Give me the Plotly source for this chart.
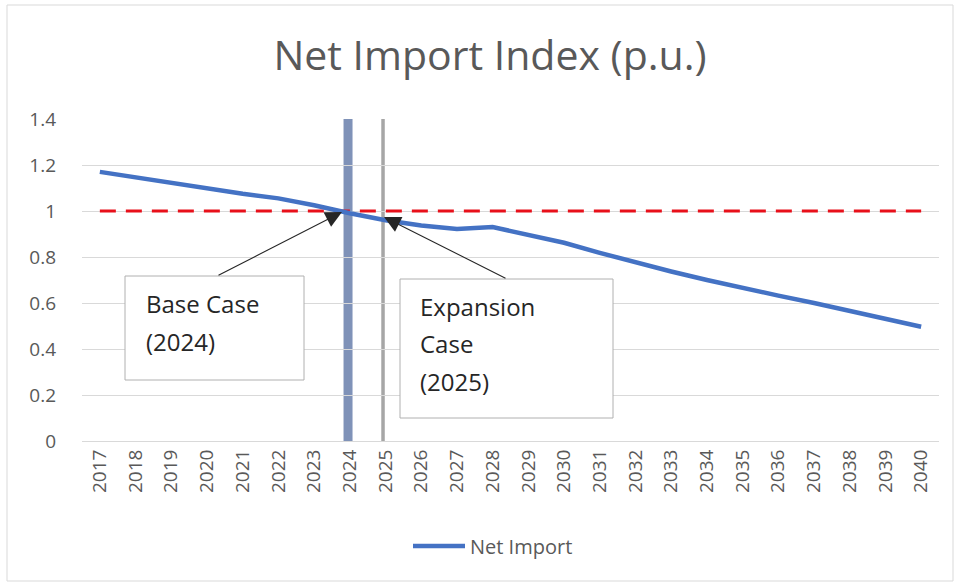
import plotly.graph_objects as go

# ---- data ----
years = [str(y) for y in range(2017, 2041)]
net_import = [1.17, 1.146, 1.122, 1.098, 1.075, 1.055, 1.025, 0.99, 0.96, 0.937, 0.922, 0.93,
              0.895, 0.862, 0.818, 0.776, 0.737, 0.70, 0.665, 0.632, 0.60, 0.567, 0.532, 0.497]
reference_level = 1.0
base_year = "2024"
expansion_year = "2025"
y_ticks = [0, 0.2, 0.4, 0.6, 0.8, 1, 1.2, 1.4]
y_tick_text = ["0", "0.2", "0.4", "0.6", "0.8", "1", "1.2", "1.4"]

# ---- layout geometry (pixels) ----
W, H = 960, 583
L, R, T, B = 82, 939, 119, 441
PW, PH = R - L, B - T


def px(x):
    return (x - L) / PW


def py(y):
    return (B - y) / PH


fig = go.Figure()
fig.add_trace(go.Scatter(x=years, y=[reference_level] * len(years), mode="lines",
                         line=dict(color="#e8101a", width=3, dash="16px,10px"),
                         showlegend=False, hoverinfo="skip"))
fig.add_trace(go.Scatter(x=years, y=net_import, mode="lines", name="Net Import",
                         line=dict(color="#4472c4", width=4.5)))

shapes = []
bi = years.index(base_year)
ei = years.index(expansion_year)
shapes.append(dict(type="line", xref="x", yref="paper", x0=bi - 0.05, x1=bi - 0.05, y0=0, y1=1,
                   line=dict(color="#7f92b8", width=9), layer="between"))
shapes.append(dict(type="line", xref="x", yref="paper", x0=ei - 0.07, x1=ei - 0.07, y0=0, y1=1,
                   line=dict(color="#a6a6a6", width=3.5), layer="between"))
# annotation boxes
shapes.append(dict(type="rect", xref="paper", yref="paper", x0=px(125), x1=px(304), y0=py(380), y1=py(276),
                   line=dict(color="#b0b0b0", width=1), fillcolor="white", layer="above"))
shapes.append(dict(type="rect", xref="paper", yref="paper", x0=px(400), x1=px(613), y0=py(418), y1=py(279),
                   line=dict(color="#b0b0b0", width=1), fillcolor="white", layer="above"))
# outer chart border
shapes.append(dict(type="rect", xref="paper", yref="paper", x0=px(7), x1=px(953), y0=py(581), y1=py(5),
                   line=dict(color="#d9d9d9", width=1), fillcolor="rgba(0,0,0,0)", layer="below"))

ann_font = dict(family="Open Sans", size=24, color="#262626")
annotations = []
for txt, x, y in [("Base Case", 144, 303), ("(2024)", 144, 341),
                  ("Expansion", 418, 306), ("Case", 418, 343), ("(2025)", 418, 381)]:
    annotations.append(dict(text=txt, xref="paper", yref="paper", x=px(x), y=py(y),
                            xanchor="left", yanchor="middle", showarrow=False, font=ann_font))
# arrows
for hx, hy, tx, ty in [(342, 212, 217, 276), (384, 217, 507, 279)]:
    annotations.append(dict(text="", xref="paper", yref="paper", x=px(hx), y=py(hy),
                            ax=tx - hx, ay=ty - hy, showarrow=True, arrowhead=2,
                            arrowsize=3, arrowwidth=1.1, arrowcolor="#262626", standoff=0))

tick_font = dict(family="Open Sans", size=19, color="#595959")
fig.update_layout(
    width=W, height=H,
    margin=dict(l=L, r=W - R, t=T, b=H - B),
    paper_bgcolor="white", plot_bgcolor="white",
    title=dict(text="Net Import Index (p.u.)", x=490 / W, xanchor="center", y=1 - 56 / H, yanchor="middle",
               font=dict(family="Open Sans", size=41, color="#595959")),
    xaxis=dict(type="category", range=[-0.5, len(years) - 0.5], tickangle=-90, showgrid=False,
               showline=True, linecolor="#d9d9d9", linewidth=1, ticks="", tickfont=tick_font),
    yaxis=dict(range=[0, 1.4], tickvals=y_ticks, ticktext=y_tick_text, showgrid=True, gridcolor="#d9d9d9",
               gridwidth=1, zeroline=False, showline=False, ticks="", ticklabelstandoff=25,
               tickfont=tick_font),
    legend=dict(orientation="h", x=px(493), xanchor="center", y=py(546), yanchor="middle",
                itemwidth=52, font=dict(family="Open Sans", size=20, color="#595959")),
    shapes=shapes, annotations=annotations,
)
fig.write_html("out.html")
